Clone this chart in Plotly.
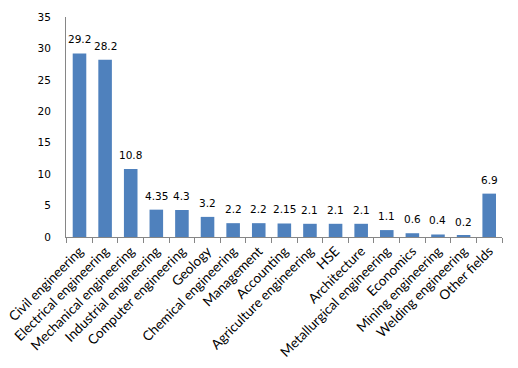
import plotly.graph_objects as go

categories = ["Civil engineering", "Electrical engineering", "Mechanical engineering",
              "Industrial engineering", "Computer engineering", "Geology",
              "Chemical engineering", "Management", "Accounting",
              "Agriculture engineering", "HSE", "Architecture",
              "Metallurgical engineering", "Economics", "Mining engineering",
              "Welding engineering", "Other fields"]
values = [29.2, 28.2, 10.8, 4.35, 4.3, 3.2, 2.2, 2.2, 2.15, 2.1, 2.1, 2.1, 1.1, 0.6, 0.4, 0.2, 6.9]
labels = ["29.2", "28.2", "10.8", "4.35", "4.3", "3.2", "2.2", "2.2", "2.15", "2.1", "2.1", "2.1",
          "1.1", "0.6", "0.4", "0.2", "6.9"]
y_ticks = [0, 5, 10, 15, 20, 25, 30, 35]

fig = go.Figure(go.Bar(
    x=categories, y=values,
    marker=dict(color="#4F81BD", line=dict(width=0)),
    cliponaxis=False,
))
for c, v, t in zip(categories, values, labels):
    fig.add_annotation(x=c, y=v, text=t, showarrow=False, yanchor="bottom",
                       yshift=6, font=dict(family="DejaVu Sans", size=10.5, color="black"))
fig.update_layout(
    width=518, height=368,
    margin=dict(l=66, r=16, t=17, b=131),
    paper_bgcolor="white", plot_bgcolor="white",
    bargap=0.47, showlegend=False,
)
fig.update_xaxes(
    type="category", tickangle=-45, tickson="boundaries",
    ticks="outside", ticklen=5, tickcolor="#868686",
    showline=True, linecolor="#868686", linewidth=1,
    tickfont=dict(family="Lato", size=13.5, color="black"),
    showgrid=False, automargin=False,
)
fig.update_yaxes(
    range=[0, 35], tickvals=y_ticks, showgrid=False, zeroline=False,
    showline=True, linecolor="#868686", linewidth=1,
    tickfont=dict(family="DejaVu Sans", size=10.5, color="black"),
    ticks="", ticklabelstandoff=12, automargin=False,
)
fig.write_html("out.html", config={"displayModeBar": False},
               post_script="document.body.style.margin='0';document.body.style.padding='0';")
